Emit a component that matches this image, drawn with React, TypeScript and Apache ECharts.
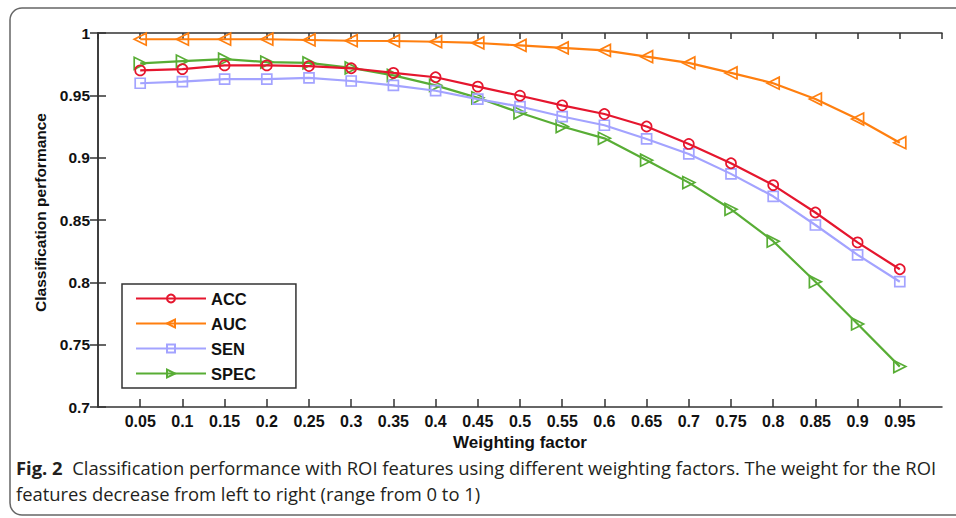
import React, { useEffect, useRef } from "react";
import * as echarts from "echarts";

const weights = [0.05, 0.1, 0.15, 0.2, 0.25, 0.3, 0.35, 0.4, 0.45, 0.5, 0.55, 0.6, 0.65, 0.7, 0.75, 0.8, 0.85, 0.9, 0.95];
const accValues = [0.970, 0.971, 0.974, 0.974, 0.9735, 0.9717, 0.968, 0.9645, 0.957, 0.9497, 0.942, 0.935, 0.925, 0.911, 0.8955, 0.878, 0.856, 0.832, 0.8105];
const aucValues = [0.995, 0.995, 0.995, 0.995, 0.9944, 0.9938, 0.9936, 0.993, 0.992, 0.990, 0.988, 0.986, 0.981, 0.976, 0.968, 0.9597, 0.947, 0.931, 0.912];
const senValues = [0.9597, 0.961, 0.963, 0.963, 0.964, 0.9615, 0.958, 0.9537, 0.947, 0.941, 0.933, 0.926, 0.915, 0.903, 0.887, 0.869, 0.846, 0.822, 0.8005];
const specValues = [0.9757, 0.9775, 0.979, 0.9767, 0.976, 0.972, 0.966, 0.958, 0.948, 0.936, 0.925, 0.9155, 0.898, 0.88, 0.8586, 0.833, 0.8005, 0.7666, 0.7324];

const seriesNames = ["ACC", "AUC", "SEN", "SPEC"];
const xAxisTitle = "Weighting factor";
const yAxisTitle = "Classification performance";
const captionBold = "Fig. 2";
const captionLine1 = "Classification performance with ROI features using different weighting factors. The weight for the ROI";
const captionLine2 = "features decrease from left to right (range from 0 to 1)";

const FONT = "'Liberation Sans', Arial, Helvetica, sans-serif";
const CAP_FONT = "'Open Sans', 'Noto Sans', sans-serif";
const AXIS_COLOR = "#333";
const CAP_SIZE = 18.4;

function fmt(v: number): string {
  const r = Math.round(v * 100) / 100;
  return String(r);
}

export default function App() {
  const ref = useRef<HTMLDivElement>(null);

  useEffect(() => {
    if (!ref.current) return;
    const chart = echarts.init(ref.current, undefined, { renderer: "svg" });

    const styles = [
      { color: "#e5162e", symbol: "circle", size: 10, rotate: 0 },
      { color: "#ff7f0f", symbol: "triangle", size: 12, rotate: 90 },
      { color: "#a3a3ff", symbol: "rect", size: 10, rotate: 0 },
      { color: "#58ad35", symbol: "triangle", size: 12, rotate: -90 },
    ];
    const values = [accValues, aucValues, senValues, specValues];

    const series = seriesNames.map((name, i) => ({
      name,
      type: "line",
      xAxisIndex: 0,
      yAxisIndex: 0,
      data: weights.map((w, j) => [w, values[i][j]]),
      symbol: styles[i].symbol,
      symbolSize: styles[i].size,
      symbolRotate: styles[i].rotate,
      showAllSymbol: true,
      lineStyle: { color: styles[i].color, width: 2.2 },
      itemStyle: {
        color: "rgba(255,255,255,0)",
        borderColor: styles[i].color,
        borderWidth: 1.7,
      },
      emphasis: { disabled: true },
      z: 3 + (3 - i),
    }));

    const tickLabelStyle = {
      fontFamily: FONT,
      fontWeight: "bold" as const,
      color: "#111",
    };

    chart.setOption({
      animation: false,
      backgroundColor: "#fff",
      grid: { left: 98, right: 14, top: 33, bottom: 111, containLabel: false },
      legend: {
        orient: "vertical",
        left: 122,
        top: 284,
        data: seriesNames,
        itemWidth: 70,
        itemHeight: 10,
        itemGap: 8,
        padding: [6, 40, 6, 13],
        borderColor: AXIS_COLOR,
        borderWidth: 1.5,
        backgroundColor: "#fff",
        selectedMode: false,
        textStyle: { ...tickLabelStyle, fontSize: 16.5 },
      },
      xAxis: [
        {
          type: "value",
          position: "bottom",
          min: 0,
          max: 1,
          interval: 0.05,
          splitLine: { show: false },
          axisLine: { show: true, lineStyle: { color: AXIS_COLOR, width: 1.5 } },
          axisTick: { show: true, inside: true, length: 8, lineStyle: { color: AXIS_COLOR, width: 1.5 } },
          axisLabel: {
            ...tickLabelStyle,
            fontSize: 16,
            margin: 6,
            showMinLabel: false,
            showMaxLabel: false,
            formatter: (v: number) => (v <= 0.001 || v >= 0.999 ? "" : fmt(v)),
          },
          name: xAxisTitle,
          nameLocation: "middle",
          nameGap: 24,
          nameTextStyle: { ...tickLabelStyle, fontSize: 17 },
        },
        {
          type: "value",
          position: "top",
          min: 0,
          max: 1,
          interval: 0.05,
          splitLine: { show: false },
          axisLine: { show: true, lineStyle: { color: AXIS_COLOR, width: 1.5 } },
          axisTick: { show: true, inside: true, length: 6, lineStyle: { color: AXIS_COLOR, width: 1.5 } },
          axisLabel: { show: false },
        },
      ],
      yAxis: [
        {
          type: "value",
          position: "left",
          min: 0.7,
          max: 1,
          interval: 0.05,
          splitLine: { show: false },
          axisLine: { show: true, lineStyle: { color: AXIS_COLOR, width: 1.5 } },
          axisTick: { show: true, inside: true, length: 8, lineStyle: { color: AXIS_COLOR, width: 1.5 } },
          axisLabel: {
            ...tickLabelStyle,
            fontSize: 15.5,
            margin: 8,
            formatter: (v: number) => fmt(v),
          },
          name: yAxisTitle,
          nameLocation: "middle",
          nameGap: 47,
          nameTextStyle: { ...tickLabelStyle, fontSize: 15.5, padding: [0, 0, 0, 15] },
        },
        {
          type: "value",
          position: "right",
          min: 0.7,
          max: 1,
          interval: 0.05,
          splitLine: { show: false },
          axisLine: { show: true, lineStyle: { color: AXIS_COLOR, width: 1.5 } },
          axisTick: { show: true, inside: true, length: 8, lineStyle: { color: AXIS_COLOR, width: 1.5 } },
          axisLabel: { show: false },
        },
      ],
      graphic: [
        {
          type: "rect",
          shape: { x: 10, y: 8, width: 980, height: 507, r: 12 },
          style: { fill: "none", stroke: "#666", lineWidth: 1.5 },
          silent: true,
          z: -10,
        },
        {
          type: "text",
          left: 16,
          top: 458,
          style: {
            text: `{b|${captionBold}}  ${captionLine1}`,
            fontFamily: CAP_FONT,
            fontSize: CAP_SIZE,
            fill: "#231f20",
            rich: {
              b: { fontFamily: CAP_FONT, fontSize: CAP_SIZE, fontWeight: "bold", fill: "#231f20" },
            },
          },
        },
        {
          type: "text",
          left: 16,
          top: 484,
          style: {
            text: captionLine2,
            fontFamily: CAP_FONT,
            fontSize: CAP_SIZE,
            fill: "#231f20",
          },
        },
      ],
      series,
    });

    return () => chart.dispose();
  }, []);

  return (
    <div
      ref={ref}
      style={{ position: "fixed", left: 0, top: 0, width: 956, height: 518, background: "#fff" }}
    />
  );
}
